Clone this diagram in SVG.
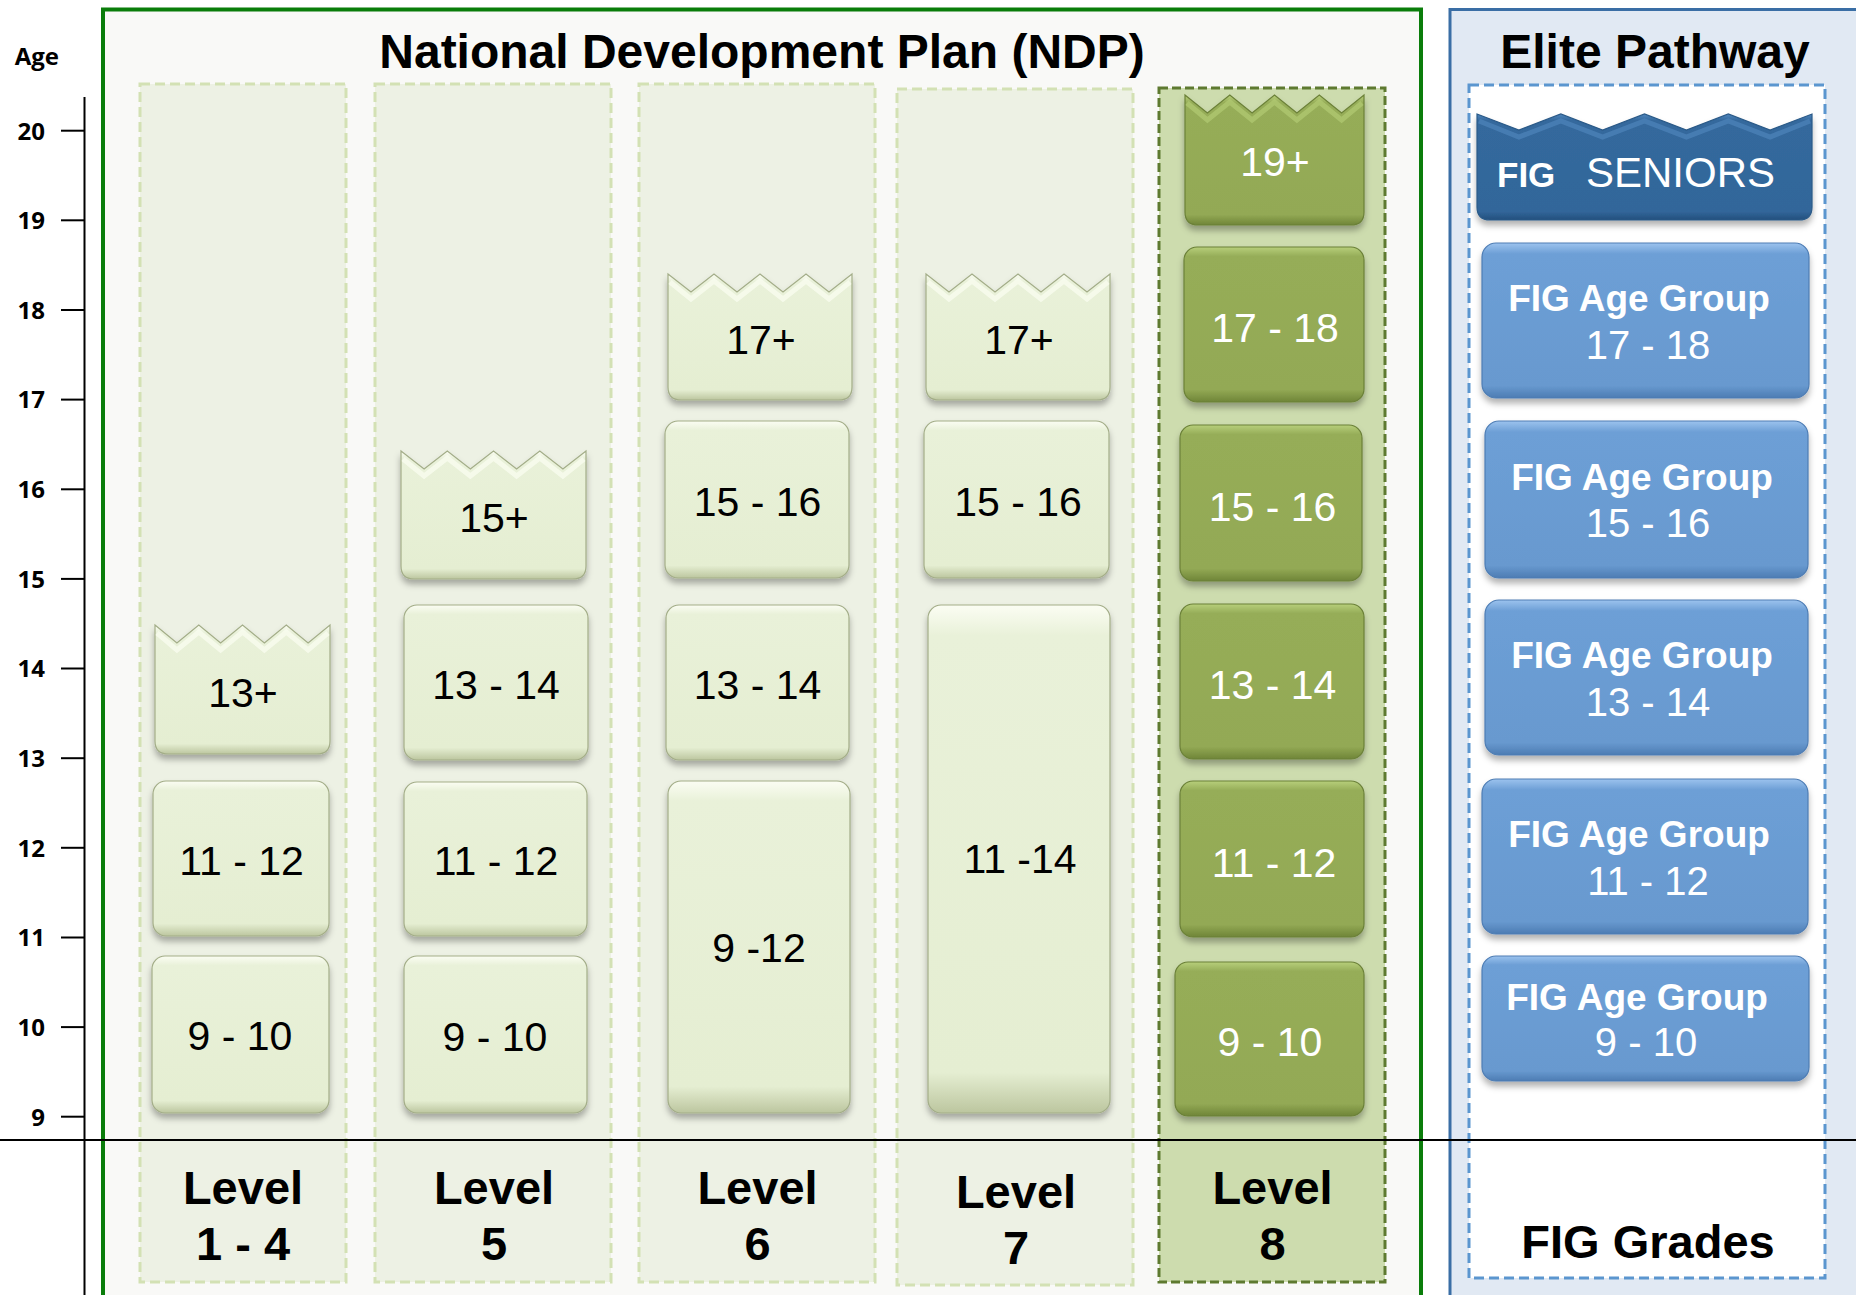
<svg xmlns="http://www.w3.org/2000/svg" width="1856" height="1295" viewBox="0 0 1856 1295">
<style>
.lt{font-family:"Liberation Sans",Arial,sans-serif;font-size:41px;text-anchor:middle;fill:#000}
.dk{font-family:"Liberation Sans",Arial,sans-serif;font-size:41px;text-anchor:middle;fill:#fff}
.bl{font-family:"Liberation Sans",Arial,sans-serif;font-size:37px;font-weight:bold;text-anchor:middle;fill:#fff}
.bn{font-family:"Liberation Sans",Arial,sans-serif;font-size:40px;text-anchor:middle;fill:#fff}
.lvl{font-family:"Liberation Sans",Arial,sans-serif;font-size:47px;font-weight:bold;text-anchor:middle;fill:#000}
.ttl{font-family:"Liberation Sans",Arial,sans-serif;font-size:48px;font-weight:bold;text-anchor:middle;fill:#000}
.ax{font-family:"Open Sans","Liberation Sans",sans-serif;font-size:24px;font-weight:bold;text-anchor:end;fill:#000}
.colL{fill:#edf1e4;stroke:#d3e1b4;stroke-width:3;stroke-dasharray:10 5}
.colD{fill:#cddcae;stroke:#5e7a30;stroke-width:3;stroke-dasharray:9 4}
.bL{fill:url(#gL);stroke:#a3ad88;stroke-width:1.2;filter:url(#sh)}
.bD{fill:url(#gD);stroke:#6b8038;stroke-width:1.2;filter:url(#sh)}
.bB{fill:url(#gB);stroke:#4e7db4;stroke-width:1.2;filter:url(#sh)}
.bS{fill:url(#gS);stroke:#2b5a88;stroke-width:1.2;filter:url(#sh)}
.zL{fill:none;stroke:#fbfdf2;stroke-width:5;opacity:0.7}
.zD{fill:none;stroke:#b2ca74;stroke-width:5;opacity:0.7}
.zS{fill:none;stroke:#4f84ba;stroke-width:5;opacity:0.7}
.tk{stroke:#000;stroke-width:2}
</style>
<defs>
<linearGradient id="gL" x1="0" y1="0" x2="0" y2="1"><stop offset="0" stop-color="#fbfdf3"/><stop offset="0.06" stop-color="#e9f1d9"/><stop offset="0.92" stop-color="#e5eed2"/><stop offset="1" stop-color="#bcc69f"/></linearGradient>
<linearGradient id="gD" x1="0" y1="0" x2="0" y2="1"><stop offset="0" stop-color="#b7cf7b"/><stop offset="0.06" stop-color="#96ad58"/><stop offset="0.92" stop-color="#93a955"/><stop offset="1" stop-color="#6f8538"/></linearGradient>
<linearGradient id="gB" x1="0" y1="0" x2="0" y2="1"><stop offset="0" stop-color="#9cc3ee"/><stop offset="0.07" stop-color="#6d9fd6"/><stop offset="0.92" stop-color="#6899cf"/><stop offset="1" stop-color="#4d7cb3"/></linearGradient>
<linearGradient id="gS" x1="0" y1="0" x2="0" y2="1"><stop offset="0" stop-color="#4f86bd"/><stop offset="0.06" stop-color="#34699d"/><stop offset="0.92" stop-color="#32669a"/><stop offset="1" stop-color="#234f7d"/></linearGradient>
<filter id="sh" x="-10%" y="-10%" width="120%" height="130%"><feDropShadow dx="0" dy="5" stdDeviation="3" flood-color="#000" flood-opacity="0.3"/></filter>
</defs>
<rect width="1856" height="1295" fill="#fff"/>

<g id="ndp-frame">
<rect x="103" y="9.5" width="1318" height="1300" fill="#f9f9f7" stroke="#0a7d0a" stroke-width="4"/>
<text class="ttl" x="762" y="68">National Development Plan (NDP)</text>
</g>
<g id="elite-frame">
<rect x="1450" y="9.5" width="420" height="1300" fill="#e1e9f3" stroke="#3a6ea5" stroke-width="3"/>
<text class="ttl" x="1655" y="68">Elite Pathway</text>
<rect x="1469" y="85" width="356" height="1193" fill="#fff" stroke="#5b96cf" stroke-width="3" stroke-dasharray="10 5"/>
</g>

<g id="columns">
<rect id="col-l14" class="colL" x="140" y="84" width="206" height="1198"/>
<rect id="col-l5" class="colL" x="375" y="84" width="236" height="1198"/>
<rect id="col-l6" class="colL" x="639" y="84" width="236" height="1198"/>
<rect id="col-l7" class="colL" x="897" y="89" width="236" height="1196"/>
<rect id="col-l8" class="colD" x="1159" y="88" width="226" height="1194"/>
</g>

<g id="level-1-4">
<path class="bL" d="M155,625 L176.9,643 L198.8,625 L220.6,643 L242.5,625 L264.4,643 L286.3,625 L308.1,643 L330,625 L330,741 Q330,754 317,754 L168,754 Q155,754 155,741 Z"/>
<polyline class="zL" points="157,633 176.9,650 198.8,632 220.6,650 242.5,632 264.4,650 286.3,632 308.1,650 328,633"/>
<text class="lt" x="243" y="707">13+</text>
<rect class="bL" x="153" y="781" width="176" height="155" rx="13"/>
<text class="lt" x="241.5" y="875">11 - 12</text>
<rect class="bL" x="152" y="956" width="177" height="157" rx="13"/>
<text class="lt" x="240" y="1050">9 - 10</text>
<text class="lvl" x="243" y="1204">Level</text>
<text class="lvl" x="243" y="1260">1 - 4</text>
</g>

<g id="level-5">
<path class="bL" d="M401,451 L424.1,469 L447.3,451 L470.4,469 L493.5,451 L516.6,469 L539.8,451 L562.9,469 L586,451 L586,566 Q586,579 573,579 L414,579 Q401,579 401,566 Z"/>
<polyline class="zL" points="403,459 424.1,476 447.3,458 470.4,476 493.5,458 516.6,476 539.8,458 562.9,476 584,459"/>
<text class="lt" x="494" y="532">15+</text>
<rect class="bL" x="404" y="605" width="184" height="155" rx="13"/>
<text class="lt" x="496" y="699">13 - 14</text>
<rect class="bL" x="404" y="782" width="183" height="154" rx="13"/>
<text class="lt" x="496" y="875">11 - 12</text>
<rect class="bL" x="404" y="956" width="183" height="157" rx="13"/>
<text class="lt" x="495" y="1051">9 - 10</text>
<text class="lvl" x="494" y="1204">Level</text>
<text class="lvl" x="494" y="1260">5</text>
</g>

<g id="level-6">
<path class="bL" d="M668,274 L691,292 L714,274 L737,292 L760,274 L783,292 L806,274 L829,292 L852,274 L852,387 Q852,400 839,400 L681,400 Q668,400 668,387 Z"/>
<polyline class="zL" points="670,282 691,299 714,281 737,299 760,281 783,299 806,281 829,299 850,282"/>
<text class="lt" x="761" y="354">17+</text>
<rect class="bL" x="665" y="421" width="184" height="157" rx="13"/>
<text class="lt" x="757.5" y="516">15 - 16</text>
<rect class="bL" x="666" y="605" width="183" height="155" rx="13"/>
<text class="lt" x="757.5" y="699">13 - 14</text>
<rect class="bL" x="668" y="781" width="182" height="332" rx="13"/>
<text class="lt" x="759" y="962">9 -12</text>
<text class="lvl" x="757.5" y="1204">Level</text>
<text class="lvl" x="757.5" y="1260">6</text>
</g>

<g id="level-7">
<path class="bL" d="M926,274 L949,292 L972,274 L995,292 L1018,274 L1041,292 L1064,274 L1087,292 L1110,274 L1110,387 Q1110,400 1097,400 L939,400 Q926,400 926,387 Z"/>
<polyline class="zL" points="928,282 949,299 972,281 995,299 1018,281 1041,299 1064,281 1087,299 1108,282"/>
<text class="lt" x="1019" y="354">17+</text>
<rect class="bL" x="924" y="421" width="185" height="157" rx="13"/>
<text class="lt" x="1018" y="516">15 - 16</text>
<rect class="bL" x="928" y="605" width="182" height="508" rx="13"/>
<text class="lt" x="1020" y="873">11 -14</text>
<text class="lvl" x="1016" y="1208">Level</text>
<text class="lvl" x="1016" y="1264">7</text>
</g>

<g id="level-8">
<path class="bD" d="M1185,95 L1207.4,113 L1229.8,95 L1252.1,113 L1274.5,95 L1296.9,113 L1319.3,95 L1341.6,113 L1364,95 L1364,212 Q1364,225 1351,225 L1198,225 Q1185,225 1185,212 Z"/>
<polyline class="zD" points="1187,103 1207.4,120 1229.8,102 1252.1,120 1274.5,102 1296.9,120 1319.3,102 1341.6,120 1362,103"/>
<text class="dk" x="1275" y="176">19+</text>
<rect class="bD" x="1184" y="247" width="180" height="155" rx="13"/>
<text class="dk" x="1275" y="342">17 - 18</text>
<rect class="bD" x="1180" y="425" width="182" height="156" rx="13"/>
<text class="dk" x="1272.5" y="521">15 - 16</text>
<rect class="bD" x="1180" y="604" width="184" height="155" rx="13"/>
<text class="dk" x="1272.5" y="699">13 - 14</text>
<rect class="bD" x="1180" y="781" width="184" height="156" rx="13"/>
<text class="dk" x="1274" y="877">11 - 12</text>
<rect class="bD" x="1175" y="962" width="189" height="154" rx="13"/>
<text class="dk" x="1270" y="1056">9 - 10</text>
<text class="lvl" x="1272.5" y="1204">Level</text>
<text class="lvl" x="1272.5" y="1260">8</text>
</g>

<g id="elite-boxes">
<path class="bS" d="M1477,114 L1518.9,130 L1560.8,114 L1602.6,130 L1644.5,114 L1686.4,130 L1728.3,114 L1770.1,130 L1812,114 L1812,207 Q1812,220 1799,220 L1490,220 Q1477,220 1477,207 Z"/>
<polyline class="zS" points="1479,121 1518.9,137 1560.8,121 1602.6,137 1644.5,121 1686.4,137 1728.3,121 1770.1,137 1810,121"/>
<text x="1497" y="187" font-family="'Liberation Sans',Arial,sans-serif" font-size="35" font-weight="bold" fill="#fff">FIG</text>
<text x="1586" y="187" font-family="'Liberation Sans',Arial,sans-serif" font-size="42" fill="#fff">SENIORS</text>
<rect class="bB" x="1482" y="243" width="327" height="155" rx="14"/>
<text class="bl" x="1639" y="311">FIG Age Group</text>
<text class="bn" x="1648" y="359">17 - 18</text>
<rect class="bB" x="1485" y="421" width="323" height="157" rx="14"/>
<text class="bl" x="1642" y="490">FIG Age Group</text>
<text class="bn" x="1648" y="537">15 - 16</text>
<rect class="bB" x="1485" y="600" width="323" height="155" rx="14"/>
<text class="bl" x="1642" y="668">FIG Age Group</text>
<text class="bn" x="1648" y="716">13 - 14</text>
<rect class="bB" x="1482" y="779" width="326" height="155" rx="14"/>
<text class="bl" x="1639" y="847">FIG Age Group</text>
<text class="bn" x="1648" y="895">11 - 12</text>
<rect class="bB" x="1482" y="956" width="327" height="125" rx="14"/>
<text class="bl" x="1637" y="1010">FIG Age Group</text>
<text class="bn" x="1646" y="1056">9 - 10</text>
<text class="lvl" x="1648" y="1258">FIG Grades</text>
</g>

<g id="age-axis">
<text class="ax" x="59" y="65">Age</text>
<line class="tk" x1="84.5" y1="97" x2="84.5" y2="1295"/>
<g class="tk">
<line x1="61" y1="130.7" x2="84" y2="130.7"/>
<line x1="61" y1="220.3" x2="84" y2="220.3"/>
<line x1="61" y1="310" x2="84" y2="310"/>
<line x1="61" y1="399.6" x2="84" y2="399.6"/>
<line x1="61" y1="489.3" x2="84" y2="489.3"/>
<line x1="61" y1="578.9" x2="84" y2="578.9"/>
<line x1="61" y1="668.5" x2="84" y2="668.5"/>
<line x1="61" y1="758.2" x2="84" y2="758.2"/>
<line x1="61" y1="847.8" x2="84" y2="847.8"/>
<line x1="61" y1="937.5" x2="84" y2="937.5"/>
<line x1="61" y1="1027.1" x2="84" y2="1027.1"/>
<line x1="61" y1="1116.7" x2="84" y2="1116.7"/>
</g>
<text class="ax" x="45" y="139.5">20</text>
<text class="ax" x="45" y="229">19</text>
<text class="ax" x="45" y="318.5">18</text>
<text class="ax" x="45" y="408">17</text>
<text class="ax" x="45" y="498">16</text>
<text class="ax" x="45" y="587.5">15</text>
<text class="ax" x="45" y="677">14</text>
<text class="ax" x="45" y="767">13</text>
<text class="ax" x="45" y="856.5">12</text>
<text class="ax" x="45" y="946">11</text>
<text class="ax" x="45" y="1036">10</text>
<text class="ax" x="45" y="1125.5">9</text>
</g>

<g id="connectors">
<line x1="0" y1="1140" x2="1856" y2="1140" stroke="#000" stroke-width="2"/>
</g>
</svg>
